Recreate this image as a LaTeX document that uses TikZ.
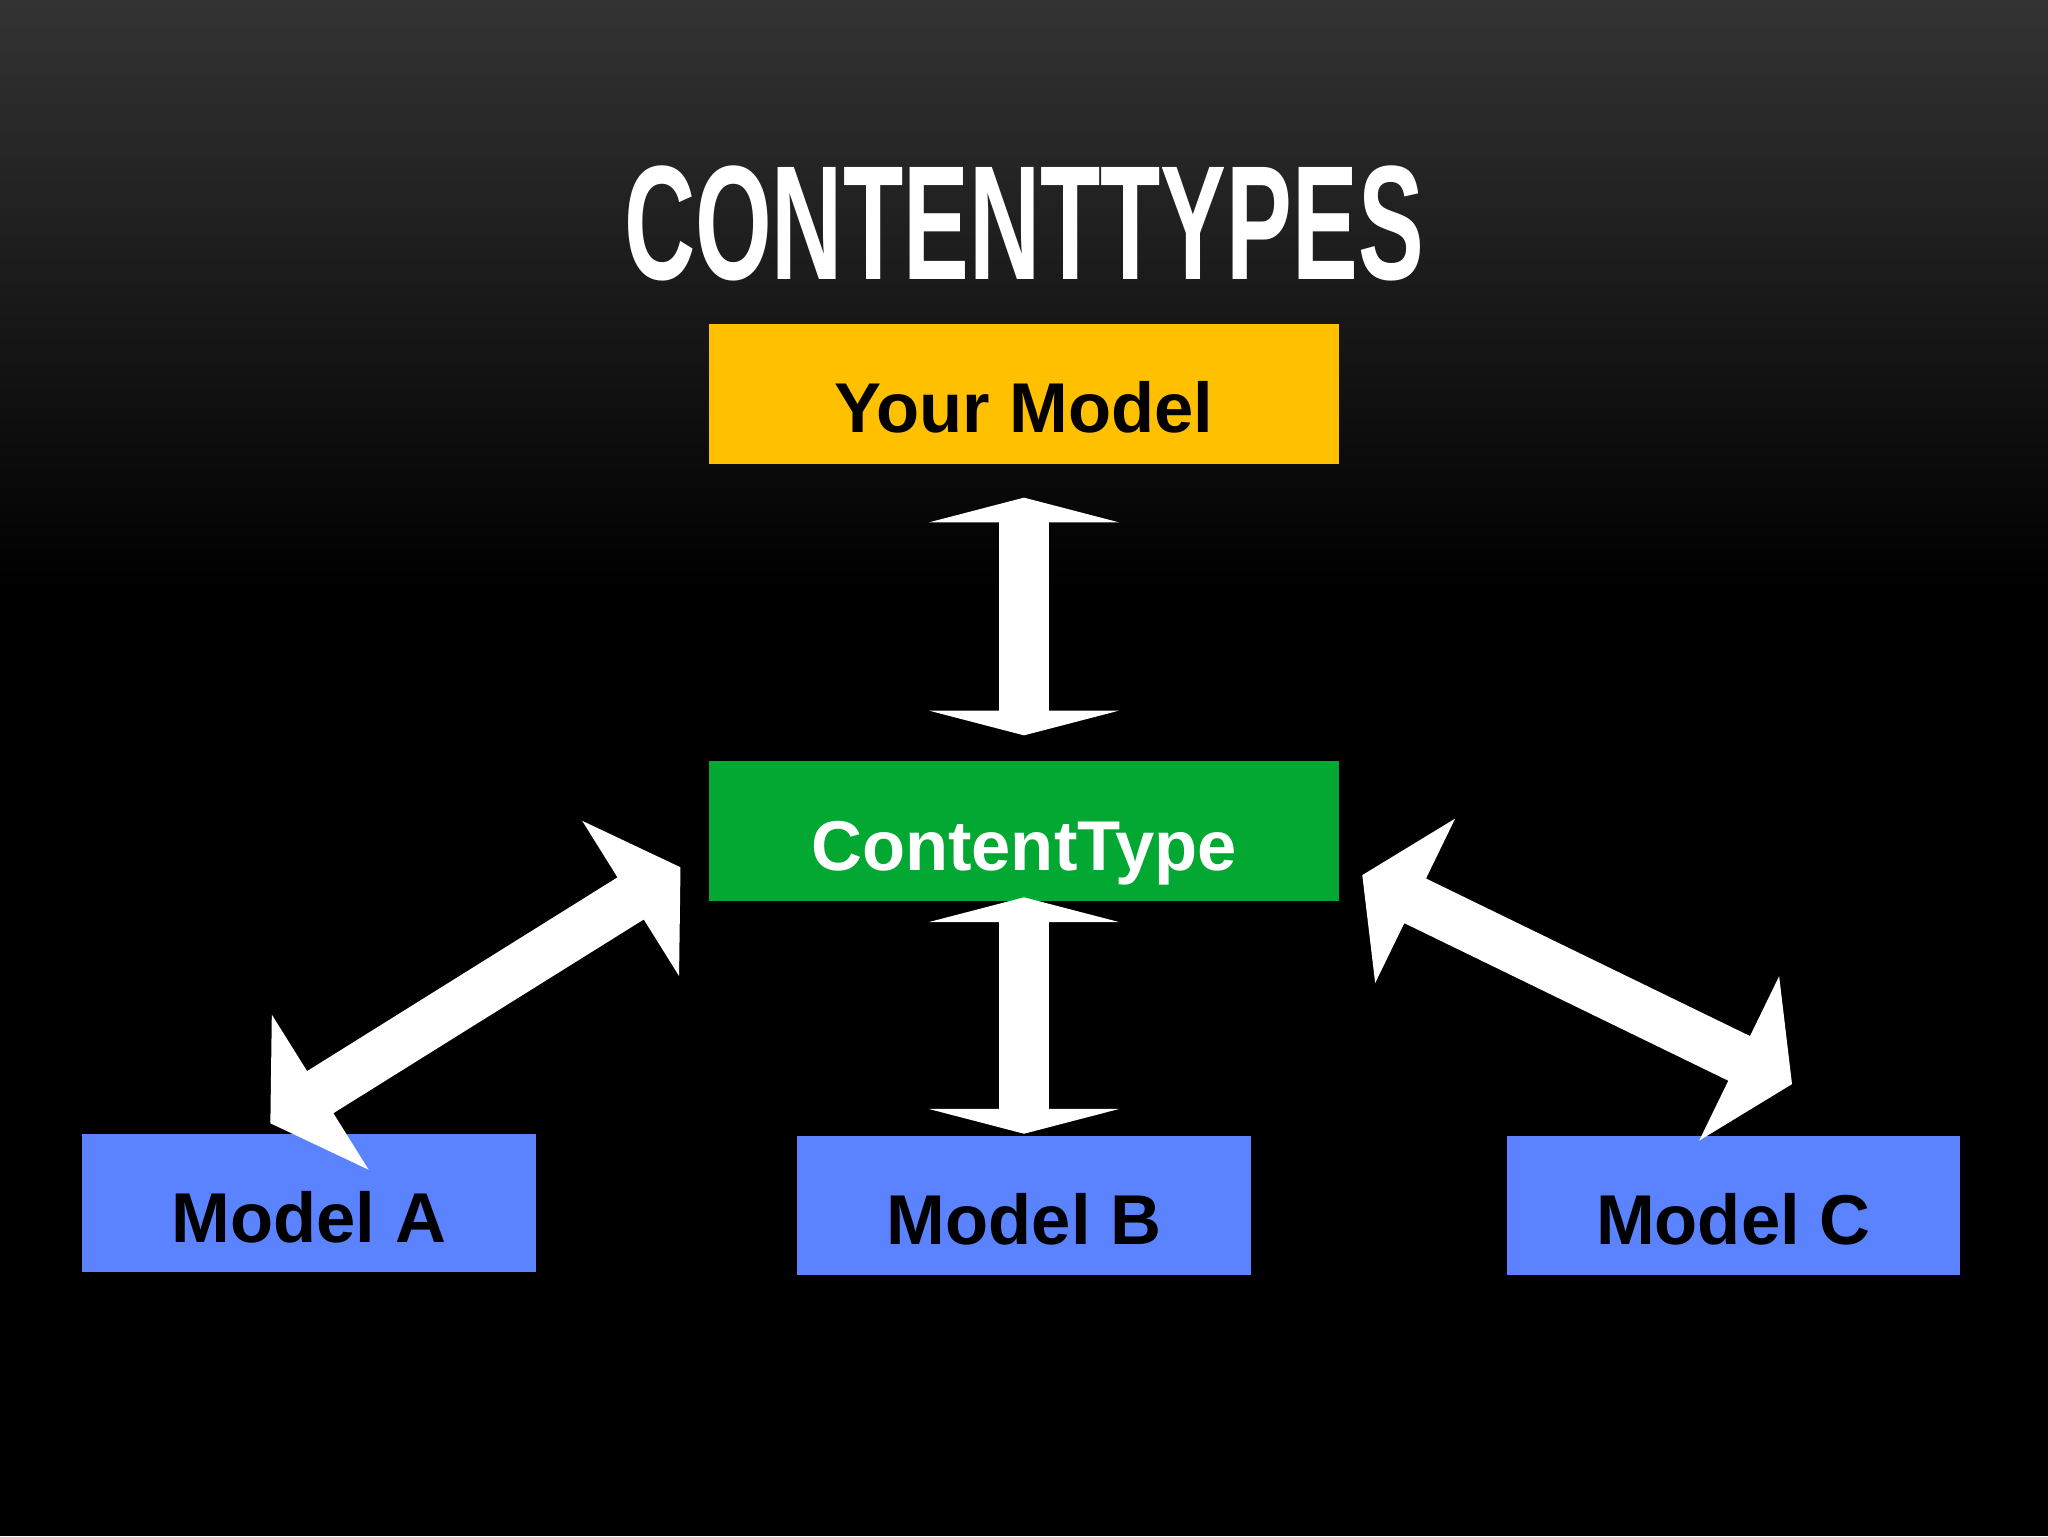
\documentclass[tikz,border=0pt]{standalone}
\usepackage{fontspec}
\setmainfont{Liberation Sans}
\usetikzlibrary{calc}
\definecolor{ymod}{HTML}{FFC000}
\definecolor{gct}{HTML}{02A832}
\definecolor{bmod}{HTML}{5B82FF}
\tikzset{
  box/.style={draw=none,minimum width=482pt,minimum height=107pt,inner sep=0pt,text height=60pt,text depth=0pt,font=\bfseries\fontsize{54}{60}\selectfont},
  mbox/.style={box,fill=bmod,minimum width=347pt,minimum height=106pt,text=black},
  dbl/.style={fill=white,draw=none}
}
% double arrow: #1 start, #2 end, shaft half width #3, head half width #4, head length #5
\newcommand{\dblarr}[5]{%
  \fill[dbl]
   (#1)
   -- ($($(#1)!#5!(#2)$)!#4!90:(#2)$)
   -- ($($(#1)!#5!(#2)$)!#3!90:(#2)$)
   -- ($($(#2)!#5!(#1)$)!#3!-90:(#1)$)
   -- ($($(#2)!#5!(#1)$)!#4!-90:(#1)$)
   -- (#2)
   -- ($($(#2)!#5!(#1)$)!#4!90:(#1)$)
   -- ($($(#2)!#5!(#1)$)!#3!90:(#1)$)
   -- ($($(#1)!#5!(#2)$)!#3!-90:(#2)$)
   -- ($($(#1)!#5!(#2)$)!#4!-90:(#2)$)
   -- cycle;}
\begin{document}
\begin{tikzpicture}[x=1pt,y=-1pt]
\useasboundingbox (0,0) rectangle (1568,1176);
\fill[black] (0,0) rectangle (1568,1176);
\shade[top color=black!80,bottom color=black] (0,0) rectangle (1568,450);
\node[text=white] (title) at (784,171) {\resizebox{612pt}{87pt}{\bfseries CONTENTTYPES}};
\node[box,fill=ymod,text=black] (your) at (784,301.5) {Your Model};
\node[box,fill=gct,text=white] (ct) at (784,636.5) {ContentType};
\node[mbox] (ma) at (236.5,921) {Model A};
\node[mbox] (mb) at (784,923) {Model B};
\node[mbox] (mc) at (1327,923) {Model C};
\coordinate (v1a) at (784,381);
\coordinate (v1b) at (784,563);
\coordinate (v2a) at (784,687);
\coordinate (v2b) at (784,868);
\coordinate (la) at (521,664);
\coordinate (lb) at (207,860);
\coordinate (ra) at (1043,670);
\coordinate (rb) at (1372,830);
\dblarr{v1a}{v1b}{19pt}{73pt}{19pt}
\dblarr{v2a}{v2b}{19pt}{73pt}{19pt}
\dblarr{la}{lb}{19pt}{70pt}{45pt}
\dblarr{ra}{rb}{19pt}{70pt}{45pt}
\end{tikzpicture}
\end{document}
